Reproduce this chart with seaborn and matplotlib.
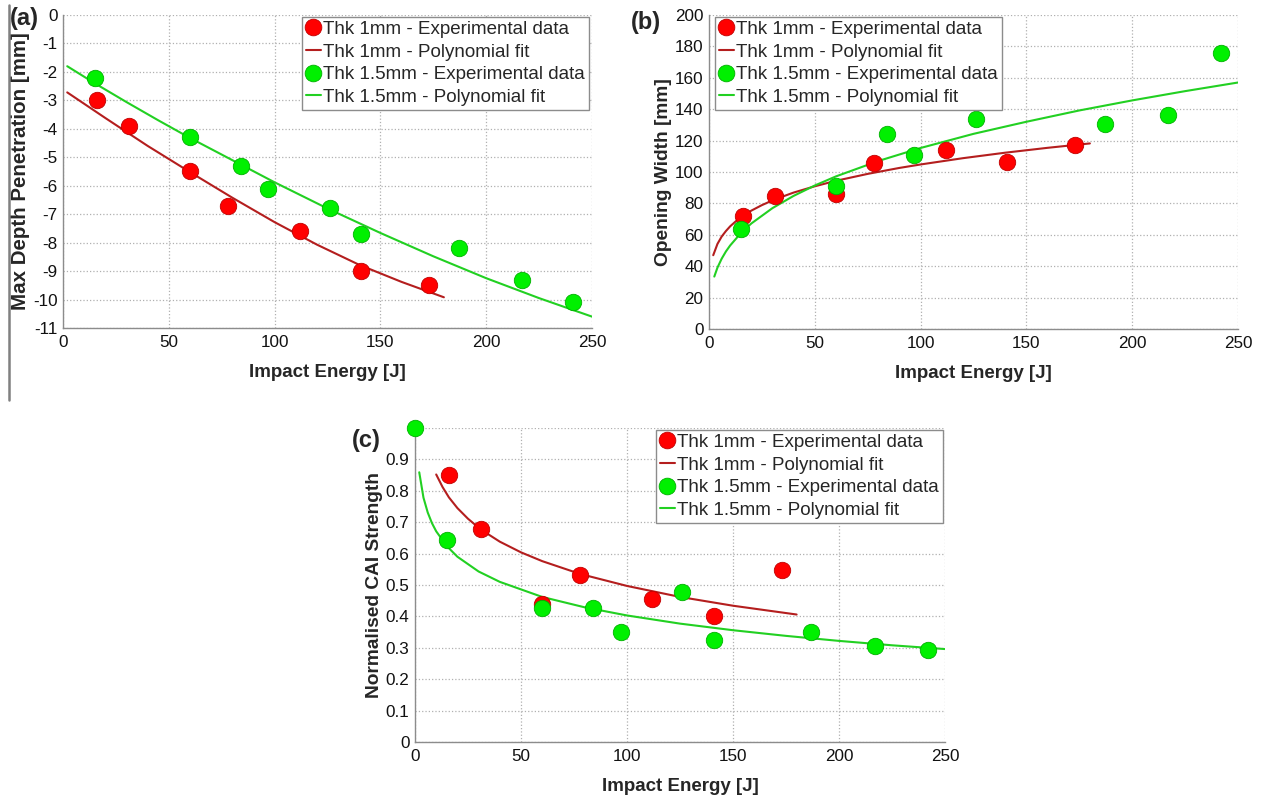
import numpy as np
import matplotlib
matplotlib.use('Agg')
import matplotlib.pyplot as plt
from matplotlib.lines import Line2D
import seaborn as sns

# ---- panel (a): max depth penetration
a_x_1mm = [16, 31, 60, 78, 112, 141, 173]
a_y_1mm = [-3.0, -3.9, -5.5, -6.7, -7.6, -9.0, -9.5]
a_x_15mm = [15, 60, 84, 97, 126, 141, 187, 217, 241]
a_y_15mm = [-2.2, -4.3, -5.3, -6.1, -6.8, -7.7, -8.2, -9.3, -10.1]
a_fx_1mm = [2, 20, 40, 60, 80, 100, 120, 140, 160, 180]
a_fy_1mm = [-2.72, -3.62, -4.6, -5.52, -6.42, -7.28, -8.07, -8.78, -9.38, -9.92]
a_fx_15mm = [2, 15, 30, 45, 60, 80, 100, 125, 150, 175, 200, 225, 250]
a_fy_15mm = [-1.8, -2.4, -3.06, -3.7, -4.32, -5.1, -5.88, -6.8, -7.66, -8.48, -9.25, -9.95, -10.6]

# ---- panel (b): opening width
b_x_1mm = [16, 31, 60, 78, 112, 141, 173]
b_y_1mm = [72, 85, 86, 106, 114, 106.5, 117]
b_x_15mm = [15, 60, 84, 97, 126, 187, 217, 242]
b_y_15mm = [64, 91, 124, 111, 134, 130.5, 136, 176]
b_fx_1mm = [2, 4, 6, 8, 10, 13, 16, 20, 25, 31, 40, 50, 60, 75, 90, 100, 120, 140, 160, 180]
b_fy_1mm = [47, 54.2, 58.9, 62.4, 65.4, 69, 72, 75.4, 78.9, 82.5, 86.9, 90.9, 94.4, 98.8,
            102.6, 104.8, 108.8, 112.3, 115.4, 118.2]
b_fx_15mm = [2.5, 4, 6, 8, 10, 15, 20, 30, 40, 50, 60, 80, 100, 125, 150, 175, 200, 225, 250]
b_fy_15mm = [33.4, 39.1, 44.8, 49.4, 53.2, 61, 67.2, 77, 84.8, 91.4, 97.2, 107, 115.3,
             124.3, 132, 139.2, 145.6, 151.5, 157]

# ---- panel (c): normalised CAI strength
c_x_1mm = [16, 31, 60, 78, 112, 141, 173]
c_y_1mm = [0.85, 0.677, 0.438, 0.531, 0.454, 0.401, 0.547]
c_x_15mm = [0, 15, 60, 84, 97, 126, 141, 187, 217, 242]
c_y_15mm = [1.0, 0.643, 0.426, 0.427, 0.35, 0.479, 0.324, 0.35, 0.307, 0.294]
c_fx_1mm = [10, 13, 16, 20, 25, 31, 40, 50, 60, 78, 100, 125, 150, 180]
c_fy_1mm = [0.852, 0.812, 0.779, 0.745, 0.711, 0.677, 0.638, 0.604, 0.576, 0.535,
            0.497, 0.462, 0.434, 0.406]
c_fx_15mm = [2, 4, 6, 8, 10, 15, 20, 30, 40, 60, 80, 100, 125, 150, 175, 200, 225, 250]
c_fy_15mm = [0.859, 0.778, 0.731, 0.697, 0.671, 0.624, 0.590, 0.543, 0.510, 0.462,
             0.429, 0.403, 0.377, 0.356, 0.338, 0.322, 0.308, 0.296]

labels = ['Thk 1mm - Experimental data', 'Thk 1mm - Polynomial fit',
          'Thk 1.5mm - Experimental data', 'Thk 1.5mm - Polynomial fit']

RED_PT = '#ff0000'
RED_LN = '#b41e1e'
GRN_PT = '#00f000'
GRN_LN = '#22d022'
GRAY = '#8c8c8c'

sns.set_theme(style='white')
plt.rcParams['font.family'] = ['Liberation Sans', 'DejaVu Sans']
plt.rcParams['axes.unicode_minus'] = False


def draw_panel(ax, pts1, fit1, pts2, fit2, ylim, yticks, ylabel, ylabel_size,
               leg_loc, leg_anchor):

    sns.scatterplot(x=pts1[0], y=pts1[1], ax=ax, color=RED_PT, s=140,
                    edgecolor='#c00000', linewidth=0.6, clip_on=False, zorder=4)
    sns.lineplot(x=fit1[0], y=fit1[1], ax=ax, color=RED_LN, lw=1.5,
                 estimator=None, sort=False, zorder=3)
    sns.scatterplot(x=pts2[0], y=pts2[1], ax=ax, color=GRN_PT, s=140,
                    edgecolor='#00b000', linewidth=0.6, clip_on=False, zorder=4)
    sns.lineplot(x=fit2[0], y=fit2[1], ax=ax, color=GRN_LN, lw=1.5,
                 estimator=None, sort=False, zorder=3)

    ax.set_xlim(0, 250)
    ax.set_ylim(*ylim)
    ax.set_xticks([0, 50, 100, 150, 200, 250])
    ax.set_yticks(yticks)
    ax.grid(True, linestyle=':', color='#b0b0b0', linewidth=0.9)
    for s in ['top', 'right']:
        ax.spines[s].set_visible(False)
    for s in ['left', 'bottom']:
        ax.spines[s].set_color(GRAY)
        ax.spines[s].set_linewidth(1.0)
    ax.tick_params(direction='in', length=3, color=GRAY, labelsize=12.3,
                   labelcolor='#111111')
    ax.tick_params(axis='x', pad=5)
    ax.tick_params(axis='y', pad=4)
    ax.set_xlabel('Impact Energy [J]', fontsize=13.5, fontweight='bold', labelpad=10)
    ax.set_ylabel(ylabel, fontsize=ylabel_size, fontweight='bold', labelpad=2)

    handles = [
        Line2D([], [], ls='none', marker='o', ms=12, mfc=RED_PT, mec='#c00000', mew=0.6),
        Line2D([], [], color=RED_LN, lw=1.5),
        Line2D([], [], ls='none', marker='o', ms=12, mfc=GRN_PT, mec='#00b000', mew=0.6),
        Line2D([], [], color=GRN_LN, lw=1.5),
    ]
    leg = ax.legend(handles, labels, loc=leg_loc, bbox_to_anchor=leg_anchor,
                    fontsize=13.5, frameon=True, fancybox=False, framealpha=1,
                    edgecolor=GRAY, borderpad=0.2, labelspacing=0.3,
                    handlelength=0.8, handletextpad=0.15, borderaxespad=0)
    leg.get_frame().set_linewidth(1.0)


fig = plt.figure(figsize=(12.62, 8), dpi=100)

ax_a = fig.add_axes([63 / 1262, 1 - 328 / 800, 529 / 1262, 313 / 800])
draw_panel(ax_a, (a_x_1mm, a_y_1mm), (a_fx_1mm, a_fy_1mm),
           (a_x_15mm, a_y_15mm), (a_fx_15mm, a_fy_15mm),
           (-11, 0), np.arange(-11, 1, 1), 'Max Depth Penetration [mm]', 14.8,
           'upper right', (0.994, 0.994))

ax_b = fig.add_axes([709 / 1262, 1 - 329 / 800, 529 / 1262, 314 / 800])
draw_panel(ax_b, (b_x_1mm, b_y_1mm), (b_fx_1mm, b_fy_1mm),
           (b_x_15mm, b_y_15mm), (b_fx_15mm, b_fy_15mm),
           (0, 200), np.arange(0, 201, 20), 'Opening Width [mm]', 13.8,
           'upper left', (0.011, 0.994))

ax_c = fig.add_axes([415 / 1262, 1 - 742 / 800, 530 / 1262, 314 / 800])
draw_panel(ax_c, (c_x_1mm, c_y_1mm), (c_fx_1mm, c_fy_1mm),
           (c_x_15mm, c_y_15mm), (c_fx_15mm, c_fy_15mm),
           (0, 1.0), [0, 0.1, 0.2, 0.3, 0.4, 0.5, 0.6, 0.7, 0.8, 0.9],
           'Normalised CAI Strength', 13.8, 'upper right', (0.996, 0.994))
ax_c.set_yticklabels(['0', '0.1', '0.2', '0.3', '0.4', '0.5', '0.6', '0.7', '0.8', '0.9'])
# grid line at the top limit (1.0) with no tick label
ax_c.axhline(1.0, linestyle=':', color='#b0b0b0', linewidth=0.9, zorder=0)

# panel letters
fig.text(24 / 1262, 1 - 19 / 800, '(a)', fontsize=17, fontweight='bold', ha='center', va='center')
fig.text(646 / 1262, 1 - 23 / 800, '(b)', fontsize=17, fontweight='bold', ha='center', va='center')
fig.text(366 / 1262, 1 - 441 / 800, '(c)', fontsize=17, fontweight='bold', ha='center', va='center')

# thin frame line on the left edge of the top-left panel
fig.add_artist(Line2D([9 / 1262, 9 / 1262], [1 - 5 / 800, 1 - 400 / 800],
                      color='#808080', lw=1.8))

fig.savefig('out.png', dpi=100)
